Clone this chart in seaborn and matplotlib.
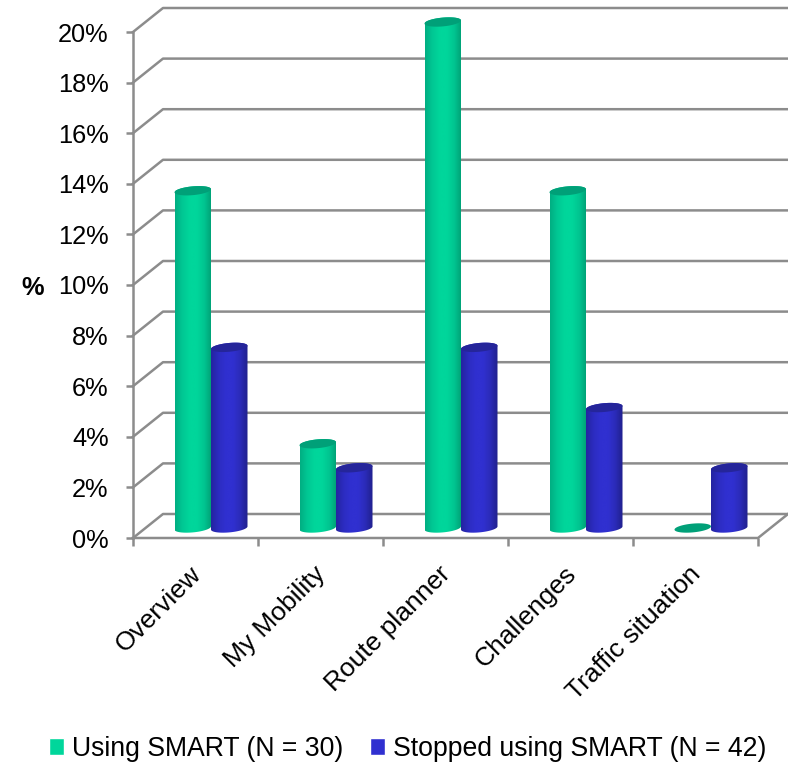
import numpy as np
import pandas as pd
import matplotlib
matplotlib.use("Agg")
import matplotlib.pyplot as plt
from matplotlib.colors import LinearSegmentedColormap
from matplotlib.path import Path
import seaborn as sns

# Share of users per app section, in percent
categories = ["Overview", "My Mobility", "Route planner", "Challenges", "Traffic situation"]
using_smart = [13.33, 3.33, 20.0, 13.33, 0.0]
stopped_smart = [7.14, 2.38, 7.14, 4.76, 2.38]
series_names = ["Using SMART (N = 30)", "Stopped using SMART (N = 42)"]
y_ticks = list(range(0, 21, 2))

GREEN, BLUE = "#00D69B", "#3030D0"
GREEN_STOPS = ["#00AE82", "#00C894", "#00D69B", "#00D69B", "#00C490", "#009E74"]
BLUE_STOPS = ["#2424A0", "#2C2CC0", "#3030D0", "#3030D0", "#2B2BB8", "#20208C"]
GREEN_CAP, BLUE_CAP = "#00A078", "#25259A"
GRID = "#8C8C8C"

W, H = 788, 765
X_L, X_R, Y_B, Y_T = 133, 758, 538, 32
PX_X = 5 / (X_R - X_L)          # category units per pixel
PX_Y = 20 / (Y_B - Y_T)         # percent units per pixel
WALL_DX, WALL_DY = 30 * PX_X, 24 * PX_Y
BAR_DX, BAR_DY = 15.5 * PX_X, 10 * PX_Y
BAR_WIDTH = 73 * PX_X
CAP_B, CAP_TILT = 4.4 * PX_Y, 1.6 * PX_Y

sns.set_theme(style="white")
plt.rcParams["font.family"] = ["Liberation Sans", "DejaVu Sans"]
plt.rcParams["text.color"] = "black"

df = pd.DataFrame({
    "section": categories * 2,
    "share": using_smart + stopped_smart,
    "group": [series_names[0]] * 5 + [series_names[1]] * 5,
})

fig = plt.figure(figsize=(W / 100, H / 100), dpi=100)
ax = fig.add_axes([X_L / W, 1 - Y_B / H, (X_R - X_L) / W, (Y_B - Y_T) / H])
sns.barplot(data=df, x="section", y="share", hue="group", order=categories,
            hue_order=series_names, palette=[GREEN, BLUE], width=BAR_WIDTH,
            gap=0, saturation=1, errorbar=None, ax=ax)
ax.set_xlim(-0.5, 4.5)
ax.set_ylim(0, 20)
xlim, ylim = ax.get_xlim(), ax.get_ylim()


def cap_arc(cx, half, base, start, stop):
    """Points along a slightly tilted ellipse seen in perspective."""
    t = np.linspace(start, stop, 60)
    return cx + half * np.cos(t), base + CAP_B * np.sin(t) + CAP_TILT * np.cos(t)


# Each flat bar from seaborn is redrawn as a shaded cylinder standing on the floor
styles = [(GREEN_STOPS, GREEN_CAP, 3), (BLUE_STOPS, BLUE_CAP, 4)]
for container, (stops, cap, z) in zip(ax.containers, styles):
    cmap = LinearSegmentedColormap.from_list("cyl", stops)
    for bar in container:
        bar.set_visible(False)
        half = bar.get_width() / 2
        cx = bar.get_x() + half + BAR_DX
        y0, y1 = BAR_DY, bar.get_height() + BAR_DY
        if bar.get_height() > 0:
            xb, yb = cap_arc(cx, half, y0, np.pi, 2 * np.pi)
            xt, yt = cap_arc(cx, half, y1, 0, np.pi)
            outline = np.column_stack([np.r_[xb, xt, xb[0]], np.r_[yb, yt, yb[0]]])
            im = ax.imshow(np.linspace(0, 1, 128)[None, :], cmap=cmap, aspect="auto",
                           extent=(cx - half, cx + half, y0 - 2 * CAP_B, y1 + 2 * CAP_B),
                           interpolation="bilinear", zorder=z)
            im.set_clip_box(fig.bbox)
            im.set_clip_path(Path(outline), ax.transData)
        xc, yc = cap_arc(cx, half, y1, 0, 2 * np.pi)
        ax.fill(xc, yc, color=cap, lw=0, clip_on=False, zorder=z + 0.5)

ax.set_xlim(xlim)
ax.set_ylim(ylim)

# Back wall gridlines with their slanted returns to the value axis
line = dict(color=GRID, lw=1.8, clip_on=False, zorder=1, solid_capstyle="projecting")
for v in y_ticks:
    ax.plot([xlim[0], xlim[0] + WALL_DX, xlim[1] + WALL_DX],
            [v, v + WALL_DY, v + WALL_DY], **line)
ax.plot([xlim[0], xlim[1], xlim[1] + WALL_DX], [0, 0, WALL_DY], **line)

for s in ["top", "right", "bottom"]:
    ax.spines[s].set_visible(False)
ax.spines["left"].set_color(GRID)
ax.spines["left"].set_linewidth(1.8)

ax.set_yticks(y_ticks)
ax.set_yticklabels([f"{v}%" for v in y_ticks], fontsize=18.3, color="black")
ax.tick_params(axis="y", which="major", left=True, length=5, width=1.8, color=GRID, pad=12.5)

ax.set_xticks(np.arange(-0.5, 5), minor=True)
ax.tick_params(axis="x", which="minor", bottom=True, length=5.5, width=1.8, color=GRID)
ax.set_xticks(np.arange(5) - 0.055)
ax.set_xticklabels(categories, fontsize=19, color="black", rotation=45,
                   ha="right", rotation_mode="anchor")
ax.tick_params(axis="x", which="major", bottom=False, length=0, pad=17)

ax.set_xlabel("")
ax.set_ylabel("")
fig.text(33 / W, 1 - 288 / H, "%", fontsize=18.3, fontweight="bold", ha="center", va="center")

sns.move_legend(ax, "lower center", bbox_to_anchor=(407.5 / W, 1 - 762 / H),
                bbox_transform=fig.transFigure, ncol=2, frameon=False, title=None,
                fontsize=19.2, handlelength=0.58, handleheight=0.58, handletextpad=0.28,
                columnspacing=1.0, borderpad=0, borderaxespad=0, labelcolor="black")

fig.savefig("out.png", dpi=100, facecolor="white")
